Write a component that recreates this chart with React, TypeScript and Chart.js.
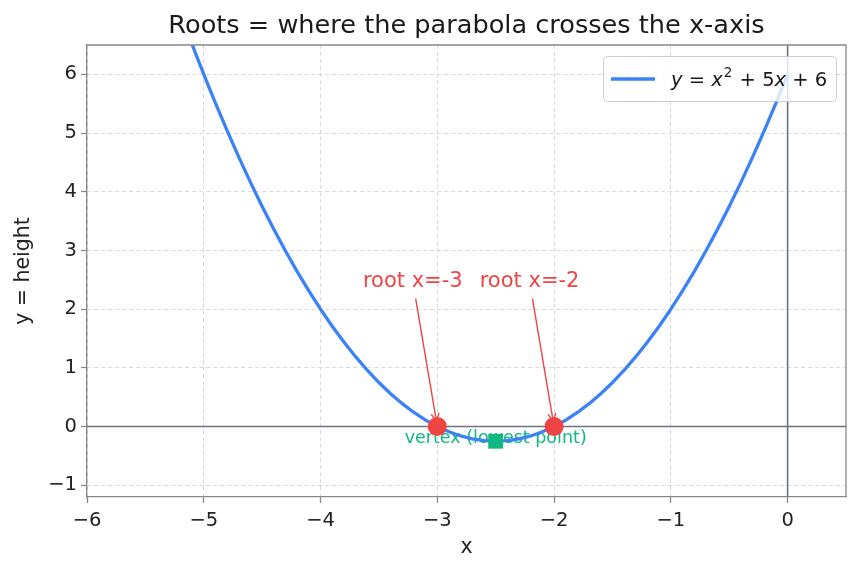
import React, { useEffect, useRef } from 'react';
import { Chart, registerables } from 'chart.js';

Chart.register(...registerables);

// ---- data ----
const curveX = [
  -5.5, -5.4, -5.3, -5.2, -5.1, -5.0, -4.9, -4.8, -4.7, -4.6, -4.5, -4.4, -4.3, -4.2, -4.1,
  -4.0, -3.9, -3.8, -3.7, -3.6, -3.5, -3.4, -3.3, -3.2, -3.1, -3.0, -2.9, -2.8, -2.7, -2.6,
  -2.5, -2.4, -2.3, -2.2, -2.1, -2.0, -1.9, -1.8, -1.7, -1.6, -1.5, -1.4, -1.3, -1.2, -1.1,
  -1.0, -0.9, -0.8, -0.7, -0.6, -0.5, -0.4, -0.3, -0.2, -0.1, 0.0,
];
const curveY = [
  8.75, 8.16, 7.59, 7.04, 6.51, 6.0, 5.51, 5.04, 4.59, 4.16, 3.75, 3.36, 2.99, 2.64, 2.31,
  2.0, 1.71, 1.44, 1.19, 0.96, 0.75, 0.56, 0.39, 0.24, 0.11, 0.0, -0.09, -0.16, -0.21, -0.24,
  -0.25, -0.24, -0.21, -0.16, -0.09, 0.0, 0.11, 0.24, 0.39, 0.56, 0.75, 0.96, 1.19, 1.44, 1.71,
  2.0, 2.31, 2.64, 2.99, 3.36, 3.75, 4.16, 4.59, 5.04, 5.51, 6.0,
];
const rootX = [-3, -2];
const rootY = [0, 0];
const vertexX = [-2.5];
const vertexY = [-0.25];

const xTicks = [-6, -5, -4, -3, -2, -1, 0];
const yTicks = [-1, 0, 1, 2, 3, 4, 5, 6];
const xMin = -6;
const xMax = 0.5;
const yMin = -1.2;
const yMax = 6.5;

const rootLabels = ['root x=-3', 'root x=-2'];
const rootLabelX = [-3.21, -2.21];
const rootLabelY = [2.47, 2.47];
const vertexLabel = 'vertex (lowest point)';
const vertexLabelX = -2.5;
const vertexLabelY = -0.2;

const titleText = 'Roots = where the parabola crosses the x-axis';
const xTitle = 'x';
const yTitle = 'y = height';
const legendParts = [
  { t: 'y', it: true },
  { t: ' = ', it: false },
  { t: 'x', it: true },
  { t: '2', sup: true },
  { t: ' + 5', it: false },
  { t: 'x', it: true },
  { t: ' + 6', it: false },
];

const FONT = '"DejaVu Sans", sans-serif';
const BLUE = '#3b82f6';
const RED = '#ef4444';
const GREEN = '#10b981';
const SPINE = '#888888';

const minus = (v: number) => String(v).replace('-', '\u2212');

const customPlugin = {
  id: 'custom',
  beforeDatasetsDraw(chart: any) {
    const { ctx, chartArea: a, scales } = chart;
    const x = scales.x;
    const y = scales.y;
    ctx.save();
    ctx.strokeStyle = '#6b7280';
    ctx.lineWidth = 1.6;
    const y0 = y.getPixelForValue(0);
    const x0 = x.getPixelForValue(0);
    ctx.beginPath();
    ctx.moveTo(a.left, y0);
    ctx.lineTo(a.right, y0);
    ctx.moveTo(x0, a.top);
    ctx.lineTo(x0, a.bottom);
    ctx.stroke();
    // vertex label
    ctx.fillStyle = GREEN;
    ctx.font = `17.5px ${FONT}`;
    ctx.textAlign = 'center';
    ctx.textBaseline = 'middle';
    ctx.fillText(vertexLabel, x.getPixelForValue(vertexLabelX), y.getPixelForValue(vertexLabelY));
    ctx.restore();
  },
  afterDatasetDraw(chart: any, args: any) {
    if (args.index !== 0) return;
    const { ctx, scales } = chart;
    const x = scales.x;
    const y = scales.y;
    ctx.save();
    ctx.font = `21px ${FONT}`;
    ctx.textAlign = 'center';
    ctx.textBaseline = 'middle';
    for (let i = 0; i < rootLabels.length; i++) {
      const tx = x.getPixelForValue(rootLabelX[i]);
      const ty = y.getPixelForValue(rootLabelY[i]);
      const px = x.getPixelForValue(rootX[i]);
      const py = y.getPixelForValue(rootY[i]);
      ctx.fillStyle = RED;
      ctx.fillText(rootLabels[i], tx, ty);
      const dx = px - tx;
      const dy = py - ty;
      const len = Math.hypot(dx, dy);
      const ux = dx / len;
      const uy = dy / len;
      const s0 = 17 / uy;
      const sx = tx + ux * s0;
      const sy = ty + uy * s0;
      const ex = px - ux * 5;
      const ey = py - uy * 5;
      ctx.strokeStyle = RED;
      ctx.lineWidth = 1.4;
      ctx.beginPath();
      ctx.moveTo(sx, sy);
      ctx.lineTo(ex, ey);
      const ang = Math.atan2(uy, ux);
      const hl = 9;
      const ha = 0.45;
      ctx.moveTo(ex - hl * Math.cos(ang - ha), ey - hl * Math.sin(ang - ha));
      ctx.lineTo(ex, ey);
      ctx.lineTo(ex - hl * Math.cos(ang + ha), ey - hl * Math.sin(ang + ha));
      ctx.stroke();
    }
    ctx.restore();
  },
  afterDraw(chart: any) {
    const { ctx, chartArea: a } = chart;
    ctx.save();
    // frame (top & right)
    ctx.strokeStyle = SPINE;
    ctx.lineWidth = 1.3;
    ctx.beginPath();
    ctx.moveTo(a.left, a.top);
    ctx.lineTo(a.right, a.top);
    ctx.lineTo(a.right, a.bottom);
    ctx.stroke();
    // title
    ctx.fillStyle = '#1a1a1a';
    ctx.font = `25.6px ${FONT}`;
    ctx.textAlign = 'center';
    ctx.textBaseline = 'alphabetic';
    ctx.fillText(titleText, (a.left + a.right) / 2, 33);
    // axis titles
    ctx.fillStyle = '#222';
    ctx.font = `20.5px ${FONT}`;
    ctx.textBaseline = 'middle';
    ctx.fillText(xTitle, (a.left + a.right) / 2, 548);
    ctx.save();
    ctx.translate(24, (a.top + a.bottom) / 2);
    ctx.rotate(-Math.PI / 2);
    ctx.fillText(yTitle, 0, 0);
    ctx.restore();
    // legend
    const lx = 603, ly = 56, lw = 233, lh = 45;
    ctx.beginPath();
    ctx.roundRect(lx + 0.5, ly + 0.5, lw, lh, 4);
    ctx.fillStyle = 'rgba(255,255,255,0.8)';
    ctx.fill();
    ctx.strokeStyle = '#cccccc';
    ctx.lineWidth = 1;
    ctx.stroke();
    ctx.strokeStyle = BLUE;
    ctx.lineWidth = 3.5;
    ctx.beginPath();
    ctx.moveTo(611, 79);
    ctx.lineTo(655, 79);
    ctx.stroke();
    ctx.fillStyle = '#1a1a1a';
    ctx.textAlign = 'left';
    ctx.textBaseline = 'alphabetic';
    let cx = 671;
    const base = 86;
    for (const p of legendParts as any[]) {
      if (p.sup) {
        ctx.font = `13.5px ${FONT}`;
        ctx.fillText(p.t, cx + 1, base - 9);
        cx += ctx.measureText(p.t).width + 2;
      } else {
        ctx.font = `${p.it ? 'italic ' : ''}19.5px ${FONT}`;
        ctx.fillText(p.t, cx, base);
        cx += ctx.measureText(p.t).width;
      }
    }
    ctx.restore();
  },
};

export default function App() {
  const ref = useRef<HTMLCanvasElement | null>(null);
  useEffect(() => {
    document.body.style.margin = '0';
    const canvas = ref.current!;
    const chart = new Chart(canvas, {
      type: 'line',
      data: {
        datasets: [
          {
            label: 'y = x^2 + 5x + 6',
            data: curveX.map((v, i) => ({ x: v, y: curveY[i] })),
            borderColor: BLUE,
            borderWidth: 3.3,
            pointRadius: 0,
            fill: false,
            tension: 0,
            order: 10,
          },
          {
            label: 'roots',
            data: rootX.map((v, i) => ({ x: v, y: rootY[i] })),
            showLine: false,
            pointRadius: 9.5,
            pointBackgroundColor: RED,
            pointBorderColor: RED,
            pointBorderWidth: 0,
            order: 1,
          },
          {
            label: 'vertex',
            data: vertexX.map((v, i) => ({ x: v, y: vertexY[i] })),
            showLine: false,
            pointStyle: 'rect',
            pointRadius: 10.5,
            pointBackgroundColor: GREEN,
            pointBorderColor: GREEN,
            pointBorderWidth: 0,
            order: 2,
          },
        ],
      },
      options: {
        responsive: false,
        animation: false,
        devicePixelRatio: 1,
        layout: { padding: { top: 45, right: 14, left: 0, bottom: 0 } },
        plugins: { legend: { display: false }, tooltip: { enabled: false }, title: { display: false } },
        scales: {
          x: {
            type: 'linear',
            min: xMin,
            max: xMax,
            afterBuildTicks: (s: any) => {
              s.ticks = xTicks.map((v) => ({ value: v }));
            },
            afterFit: (s: any) => {
              s.height = 76;
            },
            ticks: {
              callback: (v: any) => minus(v),
              font: { family: FONT, size: 19.5 },
              color: '#222',
              padding: 6,
              maxRotation: 0,
              autoSkip: false,
            },
            grid: {
              color: '#d4d4d4',
              lineWidth: 0.9,
              drawTicks: true,
              tickLength: 6,
              tickColor: SPINE,
              tickWidth: 1.3,
              tickBorderDash: [],
            },
            border: { display: true, color: SPINE, width: 1.3, dash: [4, 3] },
          },
          y: {
            type: 'linear',
            min: yMin,
            max: yMax,
            afterBuildTicks: (s: any) => {
              s.ticks = yTicks.map((v) => ({ value: v }));
            },
            afterFit: (s: any) => {
              s.width = 87;
            },
            ticks: {
              callback: (v: any) => minus(v),
              font: { family: FONT, size: 19.5 },
              color: '#222',
              padding: 4,
              autoSkip: false,
            },
            grid: {
              color: '#d4d4d4',
              lineWidth: 0.9,
              drawTicks: true,
              tickLength: 6,
              tickColor: SPINE,
              tickWidth: 1.3,
              tickBorderDash: [],
            },
            border: { display: true, color: SPINE, width: 1.3, dash: [4, 3] },
          },
        },
      },
      plugins: [customPlugin],
    } as any);
    return () => chart.destroy();
  }, []);
  return <canvas ref={ref} width={860} height={573} style={{ display: 'block', width: 860, height: 573 }} />;
}
